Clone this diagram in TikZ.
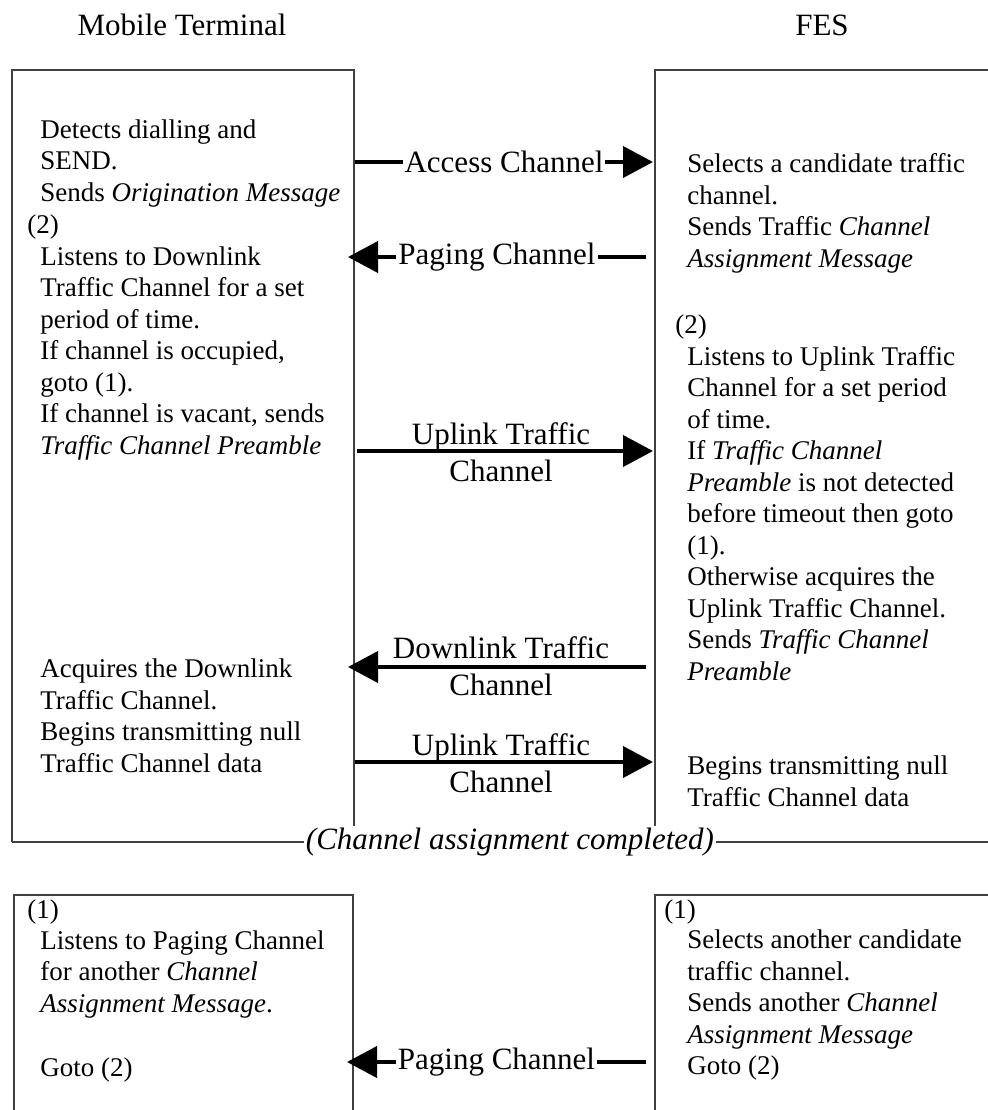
\documentclass[tikz,border=0pt]{standalone}
\usepackage{fontspec}
\setmainfont{Liberation Serif}
\usetikzlibrary{arrows.meta}
\begin{document}
\begin{tikzpicture}[x=0.5pt,y=-0.5pt,
  body/.style={font=\fontsize{13.5}{15.75}\selectfont, align=left, inner sep=0pt, anchor=base west},
  bigfont/.style={font=\fontsize{15.5}{18.5}\selectfont},
  frame/.style={draw=black!75, line width=0.65pt},
  arr/.style={line width=2pt, -{Triangle[length=15pt,width=15.5pt]}},
  lab/.style={bigfont, fill=white, inner xsep=1pt, inner ysep=1pt},
  twolab/.style={bigfont, align=center, anchor=base, inner sep=0pt},
]
\useasboundingbox (0,0) rectangle (988,1110);

% titles
\node[bigfont, anchor=base, inner sep=0pt] (mt) at (182,35) {Mobile Terminal};
\node[bigfont, anchor=base, inner sep=0pt] (fes) at (822,35) {FES};

% upper frame
\coordinate (lbl) at (12,842);
\coordinate (ltl) at (12,70);
\coordinate (ltr) at (354,70);
\coordinate (lbr) at (354,842);
\coordinate (rbl) at (655,842);
\coordinate (rtl) at (655,70);
\coordinate (rtr) at (988,70);
\coordinate (rbr) at (988,842);
\draw[frame] (lbl) -- (ltl) -- (ltr) -- (lbr);
\draw[frame] (rbl) -- (rtl) -- (rtr);
\draw[frame] (lbl) -- (rbr);
\node[lab, font=\fontsize{15.5}{18.5}\selectfont\itshape] (done) at (510,842) {(Channel assignment completed)};

% left column text (anchor = baseline of last line)
\node[body] (l1) at (40,201) {Detects dialling and\\SEND.\\Sends \textit{Origination Message}};
\node[body] (l2) at (27,233) {(2)};
\node[body] (l3) at (40,454) {Listens to Downlink\\Traffic Channel for a set\\period of time.\\If channel is occupied,\\goto (1).\\If channel is vacant, sends\\\textit{Traffic Channel Preamble}};
\node[body] (l4) at (40,772) {Acquires the Downlink\\Traffic Channel.\\Begins transmitting null\\Traffic Channel data};

% right column text
\node[body] (r1) at (687,267) {Selects a candidate traffic\\channel.\\Sends Traffic \textit{Channel}\\\textit{Assignment Message}};
\node[body] (r2) at (675,333) {(2)};
\node[body] (r3) at (687,680) {Listens to Uplink Traffic\\Channel for a set period\\of time.\\If \textit{Traffic Channel}\\\textit{Preamble} is not detected\\before timeout then goto\\(1).\\Otherwise acquires the\\Uplink Traffic Channel.\\Sends \textit{Traffic Channel}\\\textit{Preamble}};
\node[body] (r4) at (687,806) {Begins transmitting null\\Traffic Channel data};

% arrows
\coordinate (a1s) at (355,162); \coordinate (a1e) at (653,162);
\draw[arr] (a1s) -- node[lab] (a1l) {Access Channel} (a1e);
\coordinate (a2s) at (646,257); \coordinate (a2e) at (348,257);
\draw[arr] (a2s) -- node[lab] (a2l) {Paging Channel} (a2e);
\coordinate (a3s) at (357,451); \coordinate (a3e) at (653,451);
\draw[arr] (a3s) -- (a3e);
\node[twolab] (a3l) at (501,481) {Uplink Traffic\\Channel};
\coordinate (a4s) at (646,667); \coordinate (a4e) at (348,667);
\draw[arr] (a4s) -- (a4e);
\node[twolab] (a4l) at (501,695) {Downlink Traffic\\Channel};
\coordinate (a5s) at (355,762); \coordinate (a5e) at (653,762);
\draw[arr] (a5s) -- (a5e);
\node[twolab] (a5l) at (501,792) {Uplink Traffic\\Channel};

% lower boxes
\coordinate (bl1) at (14,1110); \coordinate (bl2) at (14,895);
\coordinate (bl3) at (353,895); \coordinate (bl4) at (353,1110);
\coordinate (br1) at (655,1110); \coordinate (br2) at (655,895);
\coordinate (br3) at (988,895);
\draw[frame] (bl1) -- (bl2) -- (bl3) -- (bl4);
\draw[frame] (br1) -- (br2) -- (br3);

\node[body] (b1) at (27,918) {(1)};
\node[body] (b2) at (40,1012) {Listens to Paging Channel\\for another \textit{Channel}\\\textit{Assignment Message}.};
\node[body] (b3) at (40,1076) {Goto (2)};
\node[body] (c1) at (664,918) {(1)};
\node[body] (c2) at (687,1043) {Selects another candidate\\traffic channel.\\Sends another \textit{Channel}\\\textit{Assignment Message}};
\node[body] (c3) at (687,1074) {Goto (2)};

\coordinate (a6s) at (646,1062); \coordinate (a6e) at (347,1062);
\draw[arr] (a6s) -- node[lab] (a6l) {Paging Channel} (a6e);
\end{tikzpicture}
\end{document}
